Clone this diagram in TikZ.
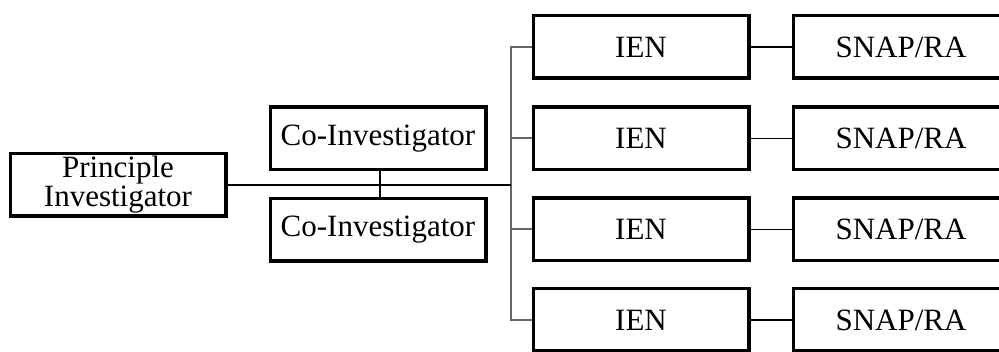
\documentclass[tikz,border=0pt]{standalone}
\usepackage{fontspec}
\setmainfont{Liberation Serif}
\begin{document}
\begin{tikzpicture}[x=1pt,y=-1pt,
  box/.style={draw=black,line width=3.5pt,fill=white,minimum width=215.5pt,minimum height=62.5pt,inner sep=0pt,align=center,font=\fontsize{31}{29}\selectfont},
  conn/.style={draw=black,line width=1.6pt},
  trunkline/.style={draw=black!60,line width=2pt}]
\clip (0,0) rectangle (999,352);
\fill[white] (0,0) rectangle (999,352);
\node[box] (pi) at (118,185) {Principle\\Investigator};
\node[box] (co1) at (378,138.5) {Co-Investigator};
\node[box] (co2) at (378,230) {Co-Investigator};
\foreach \i/\y in {1/47,2/138.5,3/229.5,4/320}{
  \node[box] (ien\i) at (641,\y) {IEN};
  \node[box] (snap\i) at (901,\y) {SNAP/RA};
}
\coordinate (t) at (511,185);
\draw[trunkline] (ien1.west) -- (ien1.west -| t) -- (ien4.west -| t) -- (ien4.west);
\draw[trunkline] (ien2.west) -- (ien2.west -| t);
\draw[trunkline] (ien3.west) -- (ien3.west -| t);
\draw[conn] (co1.south -| 380,0) -- (co2.north -| 380,0);
\draw[draw=black,line width=2.4pt] (pi.east) -- (t);
\foreach \i in {1,2,3,4}{
  \draw[conn] (ien\i.east) -- (snap\i.west);
}
\end{tikzpicture}
\end{document}
